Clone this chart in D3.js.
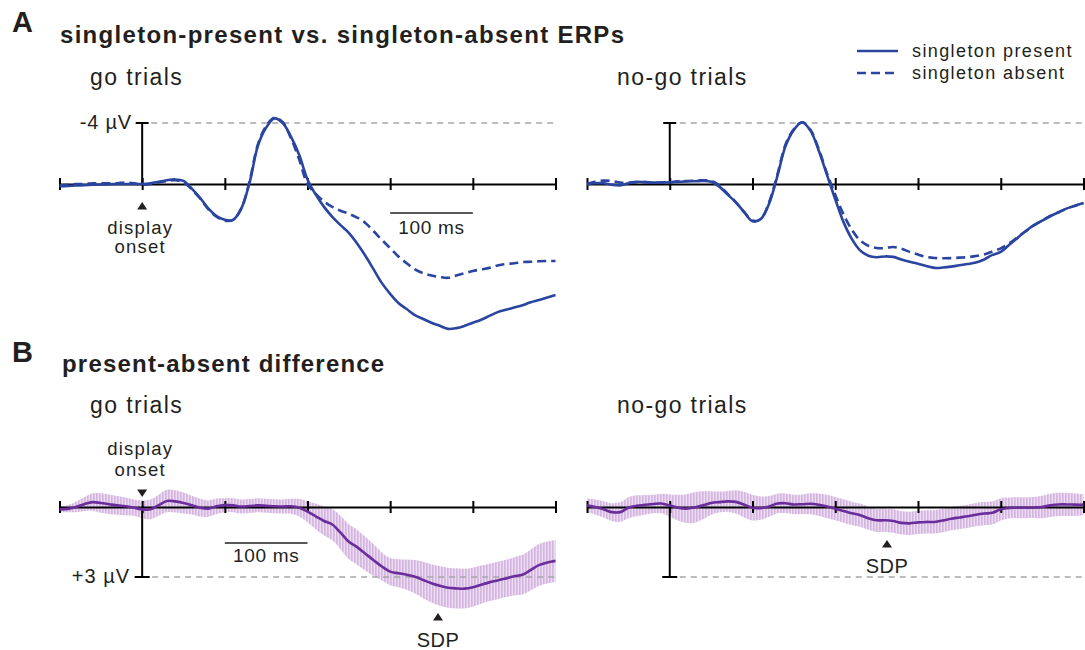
<!DOCTYPE html>
<html>
<head>
<meta charset="utf-8">
<script src="https://cdn.jsdelivr.net/npm/d3@7"></script>
<style>
  body { margin: 0; background: #fff; }
  text { font-family: "Liberation Sans", Arial, Helvetica, sans-serif; fill: #231f20; }
</style>
</head>
<body>
<svg id="fig" width="1085" height="650"></svg>
<script>
// Sample times (ms, relative to display onset), 10 ms steps
const times = d3.range(-100, 501, 10);
const tickTimes = [-100, 0, 100, 200, 300, 400, 500];

// Grand-average ERPs (µV), go trials
const goPresent = [0.15,0.13,0.1,0.08,0.05,0.03,0.02,0.0,0.0,0.0,
  0.0,-0.05,-0.15,-0.25,-0.3,-0.2,0.3,0.9,1.6,2.1,
  2.35,2.35,1.6,-0.1,-2.5,-3.7,-4.3,-4.0,-3.1,-1.9,
  -0.3,0.7,1.5,2.15,2.7,3.2,3.9,4.7,5.6,6.5,
  7.2,7.8,8.2,8.6,8.85,9.1,9.3,9.5,9.45,9.3,
  9.1,8.9,8.65,8.4,8.25,8.1,7.95,7.75,7.6,7.45,7.28];
const goAbsent = [0.1,0.05,0.0,0.0,-0.05,-0.05,-0.05,-0.05,-0.1,-0.05,
  0.05,0.0,-0.1,-0.2,-0.25,-0.1,0.35,0.95,1.65,2.15,
  2.4,2.35,1.6,-0.2,-2.6,-3.8,-4.35,-4.05,-3.0,-1.6,
  0.0,0.65,1.15,1.5,1.75,1.95,2.2,2.55,3.1,3.67,
  4.2,4.75,5.2,5.6,5.85,6.0,6.1,6.15,6.0,5.85,
  5.7,5.6,5.5,5.35,5.25,5.2,5.12,5.1,5.07,5.05,5.05];

// Grand-average ERPs (µV), no-go trials
const nogoPresent = [0.02,-0.05,-0.05,0.05,0.09,-0.05,-0.15,-0.12,-0.09,-0.1,
  -0.11,-0.14,-0.17,-0.18,-0.2,-0.15,0.17,0.7,1.2,1.85,
  2.45,2.3,1.3,-0.5,-2.5,-3.55,-4.05,-3.5,-2.2,-0.6,
  1.0,2.5,3.6,4.35,4.7,4.8,4.75,4.78,4.95,5.1,
  5.23,5.38,5.5,5.48,5.42,5.33,5.25,5.15,4.95,4.65,
  4.45,4.0,3.55,3.1,2.7,2.4,2.1,1.85,1.6,1.42,1.25];
const nogoAbsent = [0.0,-0.15,-0.22,-0.2,-0.1,-0.08,-0.1,-0.12,-0.1,-0.1,
  -0.12,-0.18,-0.2,-0.22,-0.25,-0.2,0.1,0.65,1.2,1.85,
  2.4,2.3,1.2,-0.6,-2.6,-3.6,-4.05,-3.55,-2.3,-0.7,
  0.7,2.0,3.0,3.7,4.05,4.2,4.2,4.13,4.25,4.45,
  4.63,4.78,4.85,4.87,4.86,4.83,4.8,4.72,4.62,4.42,
  4.22,3.9,3.5,3.1,2.72,2.4,2.1,1.85,1.6,1.42,1.25];

// Present-minus-absent difference waves (µV) and their error half-widths
const goDiff = [0.1,0.08,0.0,-0.12,-0.21,-0.17,-0.12,-0.07,-0.03,0.03,
  0.1,0.1,-0.08,-0.26,-0.24,-0.17,-0.08,0.03,0.07,-0.03,
  -0.08,-0.07,-0.02,-0.04,-0.07,-0.05,-0.03,-0.02,-0.03,0.03,
  0.2,0.4,0.6,0.75,1.1,1.49,1.72,2.0,2.28,2.55,
  2.77,2.84,2.9,2.99,3.13,3.27,3.38,3.46,3.49,3.5,
  3.44,3.33,3.23,3.15,3.06,2.97,2.9,2.7,2.49,2.38,2.31];
const goErr = [0.12,0.15,0.22,0.3,0.38,0.42,0.42,0.4,0.38,0.35,
  0.38,0.42,0.45,0.48,0.48,0.45,0.4,0.38,0.35,0.33,
  0.3,0.3,0.3,0.3,0.3,0.3,0.3,0.3,0.32,0.38,
  0.45,0.55,0.62,0.68,0.72,0.75,0.75,0.72,0.68,0.6,
  0.58,0.6,0.65,0.72,0.78,0.82,0.85,0.86,0.86,0.85,
  0.84,0.82,0.8,0.8,0.8,0.82,0.85,0.88,0.9,0.9,0.9];
const nogoDiff = [-0.07,0.0,0.1,0.22,0.22,0.03,-0.05,-0.09,-0.13,-0.15,
  -0.06,0.03,0.07,0.02,-0.07,-0.17,-0.21,-0.24,-0.22,-0.1,
  0.03,0.05,-0.02,-0.15,-0.16,-0.11,-0.12,-0.14,-0.1,-0.02,
  0.07,0.17,0.27,0.35,0.48,0.57,0.57,0.6,0.68,0.7,
  0.66,0.64,0.64,0.58,0.5,0.45,0.4,0.33,0.28,0.25,
  0.1,0.04,0.03,0.03,0.02,0.0,-0.07,-0.11,-0.11,-0.1,-0.1];
const nogoErr = [0.3,0.32,0.35,0.38,0.42,0.45,0.45,0.42,0.4,0.42,
  0.48,0.55,0.62,0.65,0.6,0.5,0.45,0.45,0.5,0.55,
  0.55,0.5,0.45,0.42,0.42,0.42,0.42,0.45,0.48,0.5,
  0.5,0.5,0.5,0.5,0.5,0.5,0.5,0.5,0.5,0.5,
  0.5,0.5,0.5,0.5,0.5,0.5,0.5,0.5,0.5,0.5,
  0.48,0.45,0.45,0.45,0.45,0.48,0.5,0.5,0.5,0.48,0.45];

const legendItems = ["singleton present", "singleton absent"];

const ERP_BLUE = "#2a45a0";
const DIFF_PURPLE = "#6a2d9c";
const INK = "#231f20";

const svg = d3.select("#fig");

// Vertical stripe fill for the error bands
const defs = svg.append("defs");
const pat = defs.append("pattern").attr("id", "errStripes")
  .attr("patternUnits", "userSpaceOnUse").attr("width", 3).attr("height", 10);
pat.append("rect").attr("width", 3).attr("height", 10).attr("fill", "#ecdcf1");
pat.append("rect").attr("width", 1.6).attr("height", 10).attr("fill", "#d3b5e0");

// Time scales for left (go) and right (no-go) columns
const xGo = d3.scaleLinear().domain([-100, 500]).range([59.5, 555.5]);
const xNogo = d3.scaleLinear().domain([-100, 500]).range([587, 1083.5]);
// Voltage scales: ERPs plotted negative-up, difference waves positive-down
const yTop = d3.scaleLinear().domain([-4, 0]).range([123, 184]);
const yBot = d3.scaleLinear().domain([0, 3]).range([507, 577]);

function label(txt, x, y, opts = {}) {
  return svg.append("text")
    .attr("x", x).attr("y", y)
    .attr("text-anchor", opts.anchor || "start")
    .attr("font-size", opts.size || 18)
    .attr("font-weight", opts.bold ? "bold" : "normal")
    .attr("letter-spacing", opts.ls !== undefined ? opts.ls : 1.2)
    .text(txt);
}

function timeAxis(x, y) {
  const g = svg.append("g").attr("transform", `translate(0,${y})`)
    .call(d3.axisBottom(x).tickValues(tickTimes).tickSize(6).tickSizeOuter(0).tickFormat(""));
  g.select(".domain").attr("stroke", "#000").attr("stroke-width", 2);
  g.selectAll(".tick line").attr("y1", -6).attr("y2", 6)
    .attr("stroke", "#000").attr("stroke-width", 2);
}

function refLine(x0, x1, y) {
  svg.append("line").attr("x1", x0).attr("x2", x1).attr("y1", y).attr("y2", y)
    .attr("stroke", "#a6a6a6").attr("stroke-width", 1.3).attr("stroke-dasharray", "6,5");
}

function voltBar(x, y0, y1, capHalf) {
  svg.append("line").attr("x1", x).attr("x2", x).attr("y1", y0).attr("y2", y1)
    .attr("stroke", "#000").attr("stroke-width", 2);
  svg.append("line").attr("x1", x - capHalf).attr("x2", x + capHalf).attr("y1", y1).attr("y2", y1)
    .attr("stroke", "#000").attr("stroke-width", 2);
}

function timeBar(x, y, t0, t1, ty) {
  svg.append("line").attr("x1", x(t0)).attr("x2", x(t1)).attr("y1", y).attr("y2", y)
    .attr("stroke", INK).attr("stroke-width", 1.3);
  label("100 ms", (x(t0) + x(t1)) / 2, ty, { anchor: "middle", size: 19, ls: 0.7 });
}

function marker(cx, tipY, dir) {
  // dir = -1 → points up, +1 → points down
  const h = 7.5, w = 5;
  const baseY = tipY - dir * h;
  svg.append("path")
    .attr("d", `M${cx},${tipY}L${cx - w},${baseY}L${cx + w},${baseY}Z`)
    .attr("fill", INK);
}

function erpLine(x, y, values, dashed) {
  const line = d3.line().x((d, i) => x(times[i])).y(d => y(d)).curve(d3.curveCatmullRom.alpha(0.5));
  svg.append("path").datum(values).attr("d", line)
    .attr("fill", "none").attr("stroke", ERP_BLUE).attr("stroke-width", 2.6)
    .attr("stroke-linejoin", "round")
    .attr("stroke-dasharray", dashed ? "9,5" : null);
}

function diffBand(x, y, values, errs) {
  const area = d3.area().x((d, i) => x(times[i]))
    .y0((d, i) => y(d - errs[i])).y1((d, i) => y(d + errs[i]))
    .curve(d3.curveCatmullRom.alpha(0.5));
  svg.append("path").datum(values).attr("d", area).attr("fill", "url(#errStripes)");
}

function diffLine(x, y, values) {
  const line = d3.line().x((d, i) => x(times[i])).y(d => y(d)).curve(d3.curveCatmullRom.alpha(0.5));
  svg.append("path").datum(values).attr("d", line)
    .attr("fill", "none").attr("stroke", DIFF_PURPLE).attr("stroke-width", 2.6)
    .attr("stroke-linejoin", "round");
}

// ---------- Panel A: singleton-present vs. singleton-absent ERPs ----------
label("A", 12, 32, { size: 29, bold: true, ls: 0 });
label("singleton-present vs. singleton-absent ERPs", 60, 43, { size: 24, bold: true, ls: 1.3 });
label("go trials", 90, 85, { size: 23, ls: 1.4 });
label("no-go trials", 617, 85, { size: 23, ls: 1.4 });

// Legend
legendItems.forEach((name, i) => {
  const ly = 51 + i * 22;
  svg.append("line").attr("x1", 857).attr("x2", 898).attr("y1", ly).attr("y2", ly)
    .attr("stroke", ERP_BLUE).attr("stroke-width", 2.6)
    .attr("stroke-dasharray", i === 1 ? "9,5" : null);
  label(name, 912, ly + 6, { size: 18, ls: 1.4 });
});

// go column
refLine(xGo(0) + 9, xGo(500), yTop(-4));
timeAxis(xGo, yTop(0));
voltBar(xGo(0), yTop(0), yTop(-4), 6.5);
label("-4 µV", 132, 129, { anchor: "end", size: 20, ls: 0.8 });
marker(xGo(0), 202, -1);
label("display", xGo(0) - 2, 234, { anchor: "middle", size: 18.5, ls: 1.2 });
label("onset", xGo(0) - 2, 253, { anchor: "middle", size: 18.5, ls: 1.2 });
timeBar(xGo, 213, 300, 400, 234);
erpLine(xGo, yTop, goAbsent, true);
erpLine(xGo, yTop, goPresent, false);

// no-go column
refLine(xNogo(0) + 10, xNogo(500), yTop(-4));
timeAxis(xNogo, yTop(0));
voltBar(xNogo(0), yTop(0), yTop(-4), 6.5);
erpLine(xNogo, yTop, nogoAbsent, true);
erpLine(xNogo, yTop, nogoPresent, false);

// ---------- Panel B: present-absent difference ----------
label("B", 12, 362, { size: 29, bold: true, ls: 0 });
label("present-absent difference", 62, 372, { size: 24, bold: true, ls: 1.2 });
label("go trials", 90, 413, { size: 23, ls: 1.4 });
label("no-go trials", 617, 413, { size: 23, ls: 1.4 });

// go column
diffBand(xGo, yBot, goDiff, goErr);
refLine(xGo(0) + 10, xGo(500), yBot(3));
timeAxis(xGo, yBot(0));
voltBar(xGo(0), yBot(0), yBot(3), 7.5);
label("+3 µV", 130, 583, { anchor: "end", size: 20, ls: 1.0 });
label("display", xGo(0) - 2, 455, { anchor: "middle", size: 18.5, ls: 1.2 });
label("onset", xGo(0) - 2, 476, { anchor: "middle", size: 18.5, ls: 1.2 });
marker(xGo(0), 497, 1);
timeBar(xGo, 543, 100, 200, 562);
diffLine(xGo, yBot, goDiff);
marker(438, 613, -1);
label("SDP", 438, 647, { anchor: "middle", size: 20, ls: 0.4 });

// no-go column
diffBand(xNogo, yBot, nogoDiff, nogoErr);
refLine(xNogo(0) + 10, xNogo(500), yBot(3));
timeAxis(xNogo, yBot(0));
voltBar(xNogo(0), yBot(0), yBot(3), 7.5);
diffLine(xNogo, yBot, nogoDiff);
marker(887, 540, -1);
label("SDP", 887, 573, { anchor: "middle", size: 20, ls: 0.4 });
</script>
</body>
</html>
